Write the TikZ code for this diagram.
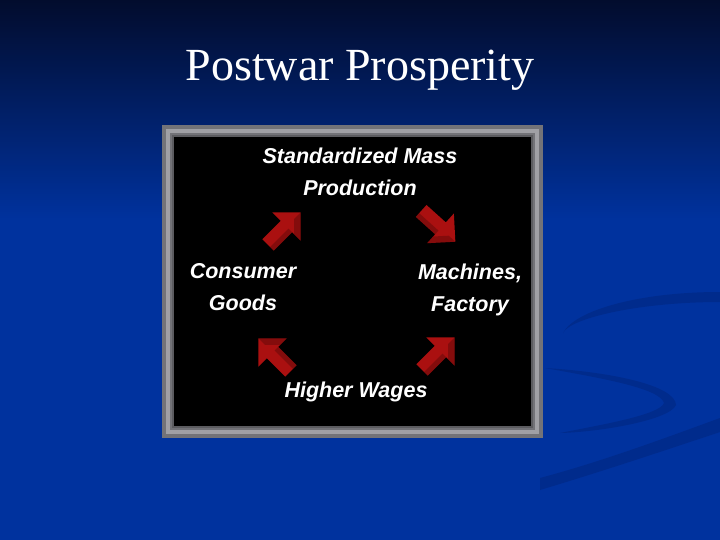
\documentclass[tikz,border=0pt]{standalone}
\usepackage{fontspec}
\setmainfont{Liberation Serif}
\newfontfamily\labfont{Liberation Sans}
\usetikzlibrary{calc}
\definecolor{bgtop}{RGB}{2,12,45}
\definecolor{bgblue}{RGB}{0,50,158}
\definecolor{swoosh}{RGB}{0,43,140}
\definecolor{arrowred}{RGB}{170,16,16}
\definecolor{framegray}{RGB}{115,115,120}
\definecolor{framelight}{RGB}{160,160,165}
\tikzset{
  lab/.style={text=white, font=\labfont\bfseries\itshape\fontsize{21.5}{32}\selectfont, align=center, inner sep=0pt},
  blockarrow/.pic={
    \fill[arrowred] (-24,-8) -- (2,-8) -- (2,-20) -- (22,0) -- (2,20) -- (2,8) -- (-24,8) -- cycle;
    \fill[black, opacity=0.22] (-24,3) -- (2,3) -- (2,11) -- (13,0) -- (22,0) -- (2,20) -- (2,8) -- (-24,8) -- cycle;
  }
}
\begin{document}
\begin{tikzpicture}[x=1pt,y=-1pt]
\useasboundingbox (0,0) rectangle (720,540);
% background
\fill[bgblue] (0,0) rectangle (720,540);
\shade[top color=bgtop, bottom color=bgblue] (0,0) rectangle (720,220);
% faint swooshes
\begin{scope}[swoosh]
\fill (720,292) .. controls (640,292) and (575,310) .. (563,333)
      .. controls (570,318) and (640,302) .. (720,302) -- cycle;
\fill (545,368) .. controls (610,372) and (675,385) .. (676,405)
      .. controls (670,420) and (600,432) .. (560,433)
      .. controls (600,425) and (660,415) .. (664,403)
      .. controls (660,388) and (600,378) .. (545,368) -- cycle;
\fill (540,478) .. controls (600,462) and (660,440) .. (720,418)
      -- (720,432) .. controls (660,452) and (600,472) .. (540,490) -- cycle;
\end{scope}
% title
\node[text=white, font=\fontsize{46}{50}\selectfont, inner sep=0pt] (title) at (360,70) {Postwar Prosperity};
% frame
\fill[framegray] (162,125) rectangle (543,438);
\draw[framelight, line width=4pt] (168,131) rectangle (537,432);
\draw[framegray!80!black, line width=1.5pt] (173,136) rectangle (532,427);
\fill[black] (174,137) rectangle (531,426);
% labels
\node[lab] (prod) at (360,172) {Standardized Mass\\Production};
\node[lab] (mach) at (470,290) {Machines,\\Factory};
\node[lab] (wage) at (356,392) {Higher Wages};
\node[lab] (cons) at (243,287) {Consumer\\Goods};
% arrows
\pic[rotate=45] (a1) at (285,228) {blockarrow};
\pic[rotate=-42] (a2) at (439,227) {blockarrow};
\pic[rotate=45] (a3) at (439,353) {blockarrow};
\pic[rotate=135] (a4) at (274,354) {blockarrow};
\end{tikzpicture}
\end{document}
